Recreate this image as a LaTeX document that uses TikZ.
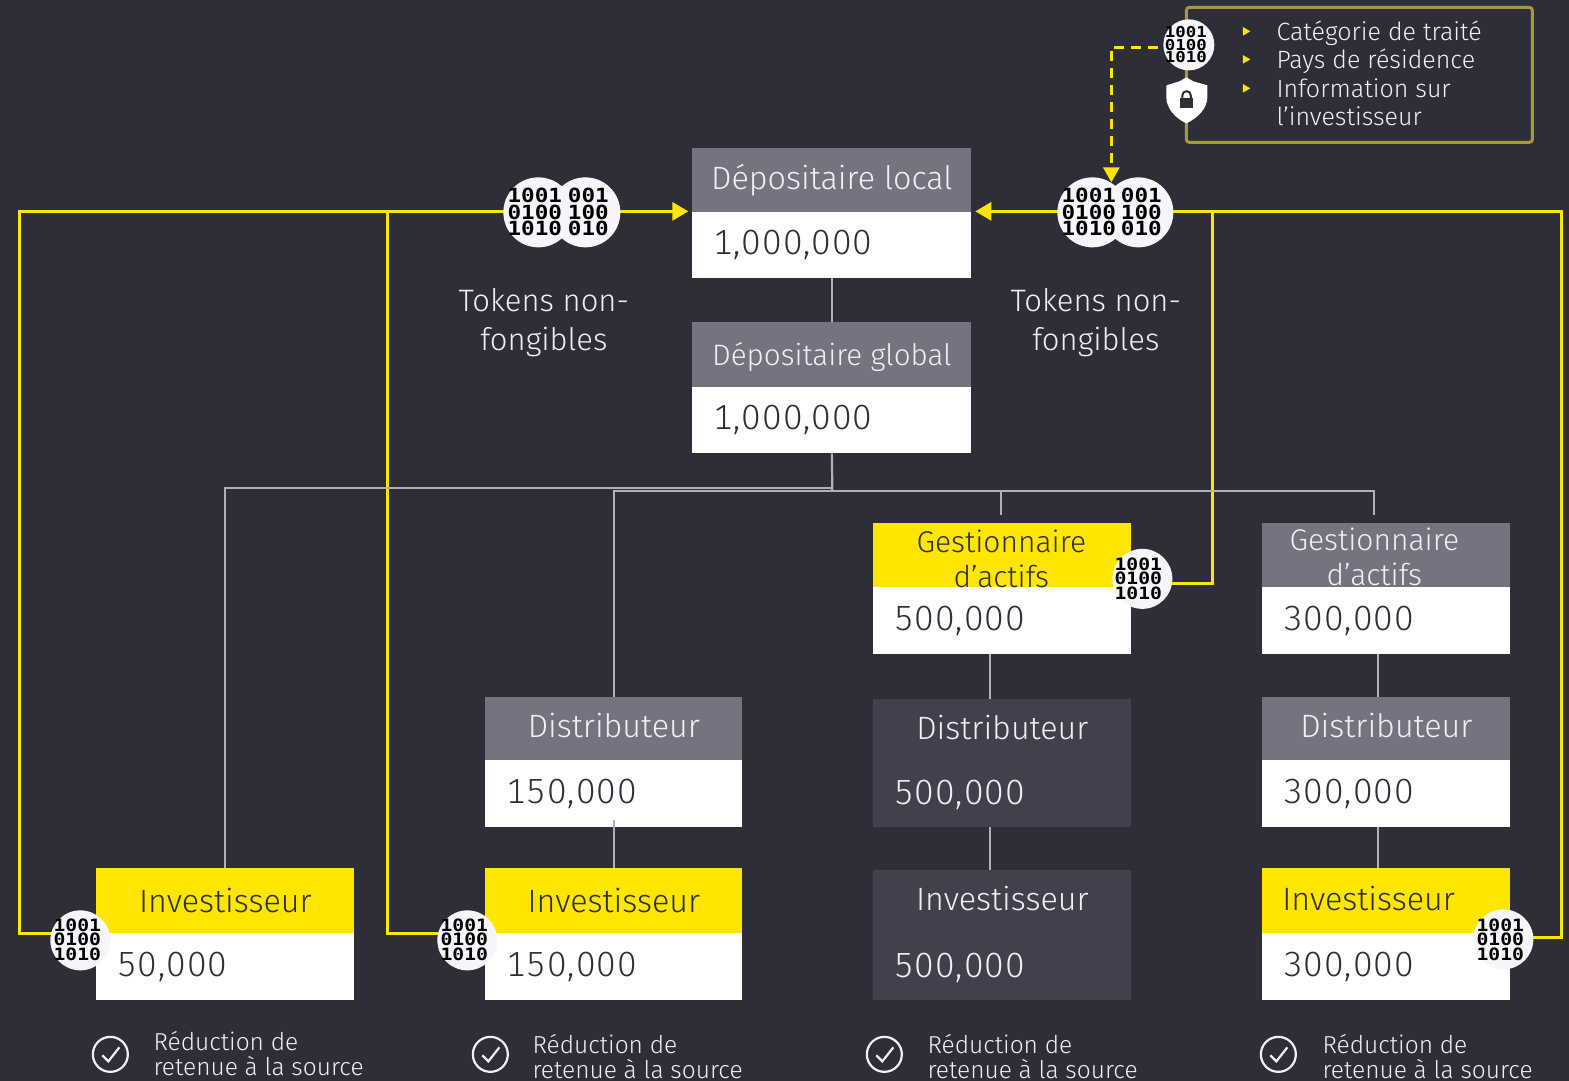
\documentclass[tikz,border=0pt]{standalone}
\usepackage{fontspec}
\setmainfont{Fira Sans Light}
\newfontfamily\binfont[FakeStretch=1.16]{DejaVu Sans Mono Bold}
\usetikzlibrary{arrows.meta,backgrounds,shapes.geometric}
\definecolor{bgc}{HTML}{2E2E38}
\definecolor{grayh}{HTML}{747480}
\definecolor{darkb}{HTML}{41414D}
\definecolor{yel}{HTML}{FFE600}
\definecolor{olive}{HTML}{A8983C}
\definecolor{lightt}{HTML}{F0F0F4}
\definecolor{linegr}{HTML}{B0B0BA}
\definecolor{off}{HTML}{F6F6FA}
\newcommand{\fs}[2]{\fontsize{#1}{#2}\selectfont}
\newcommand{\numfont}{\addfontfeatures{LetterSpace=2.6,Numbers=Monospaced}\fs{35}{38}}
\tikzset{
  cell/.style={rectangle,anchor=north west,inner ysep=0pt,inner xsep=0pt,outer sep=0pt,minimum width=#1},
  hgray/.style={fill=grayh,text=lightt,font=\fs{32.3}{35},align=center},
  hyel/.style={fill=yel,text=bgc,font=\fs{32.3}{35},align=center},
  hdark/.style={fill=darkb,text=lightt,font=\fs{32.3}{35},align=center},
  vwhite/.style={fill=white,text=bgc,font=\numfont},
  vdark/.style={fill=darkb,text=lightt,font=\numfont},
  lab/.style={inner sep=0pt,font=\fs{30}{34.5}},
  tokens/.style={inner sep=0pt,font=\fs{31}{39},text=lightt,align=center},
  small/.style={inner sep=0pt,font=\fs{24.5}{25},text=lightt,align=left,anchor=west},
  disc/.style={circle,fill=off,inner sep=0pt},
  binbig/.style={disc,minimum size=70pt},
  binmid/.style={disc,minimum size=60pt},
  bintop/.style={disc,minimum size=51pt},
  bintxt/.style={inner sep=0pt,text=black,align=center,font=\binfont\fs{19.5}{16.5}},
  bintxtm/.style={inner sep=0pt,text=black,align=center,font=\binfont\fs{17}{14.5}},
  bintxts/.style={inner sep=0pt,text=black,align=center,font=\binfont\fs{15}{12.5}},
  ylink/.style={draw=yel,line width=3pt,line join=miter},
  yarrow/.style={ylink,-{Triangle[length=16pt,width=18pt]}},
  glink/.style={draw=linegr,line width=2.2pt},
  chk/.style={circle,draw=lightt,line width=2.2pt,minimum size=35pt,inner sep=0pt},
  tick/.style={regular polygon,regular polygon sides=3,shape border rotate=-90,fill=yel,minimum size=10pt,inner sep=0pt},
}
\begin{document}
\begin{tikzpicture}[x=1pt,y=-1pt]
\useasboundingbox (-0.35,-0.35) rectangle (1568.65,1080.65);

% upper boxes
\node[cell=279pt,hgray,minimum height=64pt] (localh) at (692,148) {\raisebox{0pt}[26pt][7pt]{Dépositaire local}};
\node[cell=279pt,vwhite,minimum height=66pt,text width=237pt,align=left,inner xsep=21pt] (localv) at (692,212) {\raisebox{2pt}{1,000,000}};
\node[cell=279pt,hgray,minimum height=65pt] (globalh) at (692,322) {\fs{29.6}{35}\raisebox{0pt}[29pt][7pt]{Dépositaire global}};
\node[cell=279pt,vwhite,minimum height=66pt,text width=237pt,align=left,inner xsep=21pt] (globalv) at (692,387) {\raisebox{2pt}{1,000,000}};

% asset managers
\node[cell=258pt,hyel,minimum height=64pt] (gestah) at (873,523) {};
\node[cell=258pt,vwhite,minimum height=67pt,text width=216pt,align=left,inner xsep=21pt] (gestav) at (873,587) {500,000};
\node[lab,text=bgc,align=center] (gestat) at (1001,558.5) {Gestionnaire\\d’actifs};
\node[cell=248pt,hgray,minimum height=64pt] (gestbh) at (1262,523) {};
\node[cell=248pt,vwhite,minimum height=67pt,text width=206pt,align=left,inner xsep=20pt] (gestbv) at (1262,587) {300,000};
\node[lab,text=lightt,align=center] (gestbt) at (1374,556.5) {Gestionnaire\\d’actifs};

% distributors
\node[cell=257pt,hgray,minimum height=63pt] (distah) at (485,697) {\raisebox{8pt}{Distributeur}};
\node[cell=257pt,vwhite,minimum height=67pt,text width=215pt,align=left,inner xsep=20pt] (distav) at (485,760) {150,000};
\node[cell=258pt,hdark,minimum height=56pt] (distbh) at (873,699) {Distributeur};
\node[cell=258pt,vdark,minimum height=72pt,text width=216pt,align=left,inner xsep=21pt] (distbv) at (873,755) {\raisebox{0pt}[32pt][5pt]{500,000}};
\node[cell=248pt,hgray,minimum height=63pt] (distch) at (1262,697) {\raisebox{8pt}{Distributeur}};
\node[cell=248pt,vwhite,minimum height=67pt,text width=206pt,align=left,inner xsep=20pt] (distcv) at (1262,760) {300,000};

% investors
\node[cell=258pt,hyel,minimum height=65pt] (invah) at (96,868) {Investisseur};
\node[cell=258pt,vwhite,minimum height=67pt,text width=216pt,align=left,inner xsep=20pt] (invav) at (96,933) {50,000};
\node[cell=257pt,hyel,minimum height=65pt] (invbh) at (485,868) {Investisseur};
\node[cell=257pt,vwhite,minimum height=67pt,text width=215pt,align=left,inner xsep=20pt] (invbv) at (485,933) {150,000};
\node[cell=258pt,hdark,minimum height=56pt] (invch) at (873,870) {Investisseur};
\node[cell=258pt,vdark,minimum height=74pt,text width=216pt,align=left,inner xsep=21pt] (invcv) at (873,926) {\raisebox{0pt}[34pt][5pt]{500,000}};
\node[cell=248pt,hyel,minimum height=65pt,text width=208pt,align=left,inner xsep=20pt] (invdh) at (1262,868) {\raisebox{6pt}{Investisseur}};
\node[cell=248pt,vwhite,minimum height=67pt,text width=206pt,align=left,inner xsep=20pt] (invdv) at (1262,933) {300,000};

% binary discs
\node[binbig] (nftlb) at (585,212) {};
\node[binbig] (nftla) at (538,212) {};
\node[bintxt] (nftlat) at (534.5,212) {1001\\0100\\1010};
\node[bintxt] (nftlbt) at (588,212) {001\\100\\010};
\node[binbig] (nftrb) at (1138,212) {};
\node[binbig] (nftra) at (1092,212) {};
\node[bintxt] (nftrat) at (1088.5,212) {1001\\0100\\1010};
\node[bintxt] (nftrbt) at (1141,212) {001\\100\\010};
\node[bintop] (keytop) at (1188.5,44.5) {};
\node[bintxts] (keytopt) at (1185.5,44.5) {1001\\0100\\1010};
\node[binmid] (bina) at (80,940) {};
\node[bintxtm] (binat) at (77,939) {1001\\0100\\1010};
\node[binmid] (binb) at (467,940) {};
\node[bintxtm] (binbt) at (464,939) {1001\\0100\\1010};
\node[binmid] (binc) at (1142,578.5) {};
\node[bintxtm] (binct) at (1138,578) {1001\\0100\\1010};
\node[binmid] (bind) at (1503,939) {};
\node[bintxtm] (bindt) at (1500,939) {1001\\0100\\1010};

% routing points
\coordinate (ca1) at (19,211);
\coordinate (ca2) at (19,933);
\coordinate (cb1) at (387,211);
\coordinate (cb2) at (387,933);
\coordinate (cc1) at (1212,211);
\coordinate (cc2) at (1212,583);
\coordinate (cd1) at (1561,211);
\coordinate (cd2) at (1561,937);
\coordinate (arrL) at (688,211);
\coordinate (arrR) at (975,211);
\coordinate (dash0) at (1158,47);
\coordinate (dash1) at (1111,47);
\coordinate (dash2) at (1111,182);
\coordinate (j0) at (832,488);
\coordinate (j1) at (832,490.5);
\coordinate (ga) at (1001,515);
\coordinate (gb) at (1374,515);
\coordinate (v1t) at (990,654);
\coordinate (v1b) at (990,699);
\coordinate (v2t) at (990,827);
\coordinate (v2b) at (990,870);
\coordinate (v3t) at (1378,654);
\coordinate (v3b) at (1378,697);
\coordinate (v4t) at (1378,827);
\coordinate (v4b) at (1378,868);
\coordinate (v5t) at (613.5,820);

\begin{pgfonlayer}{background}
\fill[bgc] (-0.35,-0.35) rectangle (1568.65,1080.65);
\node[cell=346pt,draw=olive,line width=3pt,rounded corners=3pt,minimum height=135pt] (attr) at (1186,7) {};
\draw[yarrow] (nftlb.center |- arrL) -- (arrL);
\draw[yarrow] (nftra.center |- arrR) -- (arrR);
\draw[ylink] (nftla.center |- ca1) -- (ca1) -- (ca2) -- (bina.center |- ca2);
\draw[ylink] (nftla.center |- cb1) -- (cb1) -- (cb2) -- (binb.center |- cb2);
\draw[ylink] (nftrb.center |- cc1) -- (cc1) -- (cc2) -- (binc.center |- cc2);
\draw[ylink] (nftrb.center |- cd1) -- (cd1) -- (cd2) -- (bind.center |- cd2);
\draw[ylink,dash pattern=on 10pt off 7pt,-{Triangle[length=15pt,width=16pt]}] (dash0) -- (dash1) -- (dash2);
\draw[glink] (localv.south) -- (globalh.north);
\draw[glink] (globalv.south) -- (j1);
\draw[glink] (j0) -| (invah.north);
\draw[glink] (j1) -| (distah.north);
\draw[glink] (j1) -| (ga);
\draw[glink] (j1) -| (gb);
\draw[glink] (v1t) -- (v1b);
\draw[glink] (v2t) -- (v2b);
\draw[glink] (v3t) -- (v3b);
\draw[glink] (v4t) -- (v4b);
\end{pgfonlayer}
\draw[glink] (v5t) -- (invbh.north);

% attribute list
\node[small,font=\fs{25}{28.6}] (attrtxt) at (1276,73) {Catégorie de traité\\Pays de résidence\\Information sur\\l’investisseur};
\node[tick] (ta) at (1245,31) {};
\node[tick] (tb) at (1245,59) {};
\node[tick] (tc) at (1245,88) {};

% shield
\fill[white] (1186,77) -- (1193,81) -- (1207,85) -- (1207,97) .. controls (1207,108) and (1197,118) .. (1186,123) .. controls (1175,118) and (1166,108) .. (1166,97) -- (1166,85) -- (1179,81) -- cycle;
\fill[bgc] (1179.5,98) rectangle (1193,107.5);
\draw[bgc,line width=2pt] (1182,99) -- (1182,95) arc (180:360:4.2) -- (1190.4,99);

% token labels
\node[tokens] (tokl) at (543.5,322) {Tokens non-\\fongibles};
\node[tokens] (tokr) at (1095.5,322) {Tokens non-\\fongibles};

% withholding notes
\node[chk] (cka) at (110,1054) {};
\node[chk] (ckb) at (490,1054) {};
\node[chk] (ckc) at (884,1054) {};
\node[chk] (ckd) at (1278,1054) {};
\foreach \n in {cka,ckb,ckc,ckd}
  \draw[lightt,line width=2.2pt] ([shift={(-8,1)}]\n.center) -- ([shift={(-2,7)}]\n.center) -- ([shift={(9,-7)}]\n.center);
\node[small] (nota) at (153,1053) {Réduction de\\retenue à la source};
\node[small] (notb) at (532,1056) {Réduction de\\retenue à la source};
\node[small] (notc) at (927,1056) {Réduction de\\retenue à la source};
\node[small] (notd) at (1322,1056) {Réduction de\\retenue à la source};
\end{tikzpicture}
\end{document}
